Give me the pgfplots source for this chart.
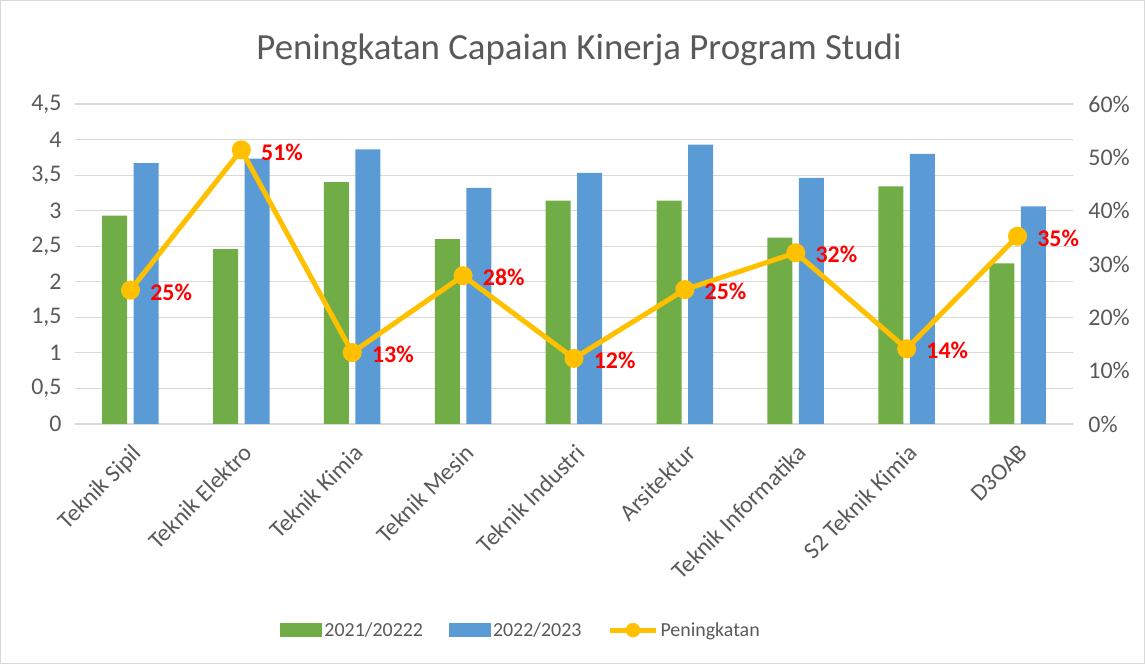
\documentclass[border=0pt]{standalone}
\usepackage{pgfplots}
\pgfplotsset{compat=1.18}
\usepackage{fontspec}
\setmainfont{Carlito}
\definecolor{cgreen}{HTML}{70AD47}
\definecolor{cblue}{HTML}{5B9BD5}
\definecolor{cyellow}{HTML}{FFC000}
\definecolor{ctext}{HTML}{595959}
\definecolor{cgrid}{HTML}{D9D9D9}
\begin{document}
\begin{tikzpicture}[x=1bp,y=1bp]
\draw[draw=cgrid, line width=1bp] (0.5,0.5) rectangle (1144.5,663.5);
\node[font=\fontsize{37}{44}\selectfont, text=ctext] at (579,614) {Peningkatan Capaian Kinerja Program Studi};
\begin{axis}[
  at={(75bp,240bp)}, anchor=south west,
  scale only axis, width=998bp, height=320bp,
  xmin=-0.5, xmax=8.5, ymin=0, ymax=4.5,
  ybar=6.5bp, bar width=25bp,
  ytick={0,0.5,1,1.5,2,2.5,3,3.5,4,4.5},
  /pgf/number format/use comma,
  /pgf/number format/assume math mode=true,
  xtick={0,1,2,3,4,5,6,7,8},
  xticklabels={Teknik Sipil,Teknik Elektro,Teknik Kimia,Teknik Mesin,Teknik Industri,Arsitektur,Teknik Informatika,S2 Teknik Kimia,D3OAB},
  xticklabel style={rotate=45, anchor=north east, xshift=-9.5bp, yshift=-10.3bp, font=\fontsize{24}{28}\selectfont, text=ctext},
  yticklabel style={font=\fontsize{24}{28}\selectfont, text=ctext},
  major tick length=0pt,
  ymajorgrids, major grid style={draw=cgrid, line width=1.2bp},
  axis y line*=left, axis x line*=bottom,
  y axis line style={draw=none},
  x axis line style={draw=cgrid, line width=1.2bp, -},
  yticklabel shift=10bp,
  legend columns=3,
  legend style={at={(0.447,-0.644)}, anchor=center, draw=none, fill=none,
    font=\fontsize{20}{24}\selectfont, text=ctext,
    /tikz/every even column/.append style={column sep=24bp}},
  legend image code/.code={\fill[#1] (0bp,-7bp) rectangle (42bp,7bp);},
]
\addplot[fill=cgreen, draw=none] coordinates {(0,2.93) (1,2.46) (2,3.40) (3,2.60) (4,3.14) (5,3.14) (6,2.62) (7,3.34) (8,2.26)};
\addlegendentry{2021/20222}
\addplot[fill=cblue, draw=none] coordinates {(0,3.67) (1,3.73) (2,3.86) (3,3.32) (4,3.53) (5,3.93) (6,3.46) (7,3.80) (8,3.06)};
\addlegendentry{2022/2023}
\addlegendimage{legend image code/.code={\draw[cyellow, line width=5bp] (0bp,0bp) -- (46bp,0bp); \fill[cyellow] (23bp,0bp) circle (7bp);}}
\addlegendentry{Peningkatan}
\end{axis}
\begin{axis}[
  at={(75bp,240bp)}, anchor=south west,
  scale only axis, width=998bp, height=320bp,
  xmin=-0.5, xmax=8.5, ymin=0, ymax=60,
  ytick={0,10,20,30,40,50,60},
  yticklabel={\pgfmathprintnumber{\tick}\%},
  /pgf/number format/assume math mode=true,
  yticklabel style={font=\fontsize{24}{28}\selectfont, text=ctext},
  yticklabel shift=12bp,
  axis y line*=right, axis x line=none,
  y axis line style={draw=none},
  major tick length=0pt,
  clip=false,
]
\addplot[cyellow, line width=5bp, mark=*, mark size=7bp, mark options={fill=cyellow, draw=none},
  point meta=y,
  nodes near coords={\pgfmathprintnumber[fixed, precision=0]{\pgfplotspointmeta}\%},
  every node near coord/.append style={anchor=west, xshift=14bp, yshift=-2bp, text=red, font=\bfseries\fontsize{24}{28}\selectfont},
] coordinates {(0,25.1) (1,51.4) (2,13.4) (3,27.8) (4,12.3) (5,25.2) (6,32.1) (7,14.1) (8,35.2)};
\end{axis}
\end{tikzpicture}
\end{document}
